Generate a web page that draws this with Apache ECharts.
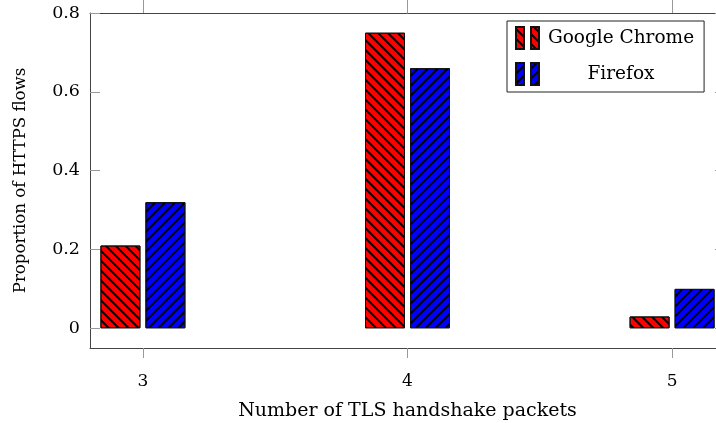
<!DOCTYPE html>
<html><head><meta charset="utf-8">
<script src="https://cdn.jsdelivr.net/npm/echarts@6/dist/echarts.min.js"></script>
<style>html,body{margin:0;padding:0;background:#fff;overflow:hidden;width:716px;height:423px}#c{width:735px;height:423px}</style>
</head><body><div id="c"></div>
<script>
const categories = [3, 4, 5];
const chromeValues = [0.21, 0.75, 0.03];
const firefoxValues = [0.32, 0.66, 0.10];
const yTicks = [0, 0.2, 0.4, 0.6, 0.8];
const seriesNames = ['Google Chrome', 'Firefox'];

const FONT = 'DejaVu Serif';
const chart = echarts.init(document.getElementById('c'), null, {renderer: 'canvas'});
function pairs(vals){ return categories.map((c,i)=>[c, vals[i]]); }
const decalBase = {symbol:'rect', symbolSize:1, color:'#000', dashArrayX:[1,0], dashArrayY:[1.2,4.6]};
chart.setOption({
  animation:false,
  backgroundColor:'#fff',
  grid:{left:90, top:13, right:10, bottom:75, containLabel:false, outerBoundsMode:'none'},
  legend:{
    orient:'vertical', left:507, top:21, padding:[5,10,6,8],
    borderColor:'#222', borderWidth:1, itemGap:12,
    itemWidth:24, itemHeight:22,
    icon:'path://M0,0h8v22h-8z M15,0h8v22h-8z',
    textStyle:{fontFamily:FONT, fontSize:19, color:'#000'},
    formatter: n => '{a|' + n + '}',
    data: seriesNames.map(n=>({name:n, textStyle:{rich:{a:{width:153, align:'center', fontFamily:FONT, fontSize:18.5, color:'#000'}}}}))
  },
  xAxis:[{
    type:'value', min:2.8, max:5.2,
    axisLine:{show:true, onZero:false, lineStyle:{color:'#444', width:1}},
    axisTick:{show:true, customValues:categories, length:10, lineStyle:{color:'#999'}},
    axisLabel:{customValues:categories, fontFamily:FONT, fontSize:17, color:'#000', margin:25},
    splitLine:{show:false},
    name:'Number of TLS handshake packets', nameLocation:'middle', nameGap:54,
    nameTextStyle:{fontFamily:FONT, fontSize:19, color:'#000'}
  },{
    type:'value', min:2.8, max:5.2, position:'top',
    axisLine:{show:true, onZero:false, lineStyle:{color:'#444', width:1}},
    axisTick:{show:true, customValues:categories, length:13, lineStyle:{color:'#999'}},
    axisLabel:{show:false}, splitLine:{show:false}
  }],
  yAxis:[{
    type:'value', min:-0.05, max:0.8,
    axisLine:{show:true, onZero:false, lineStyle:{color:'#444', width:1}},
    axisTick:{show:true, inside:true, customValues:yTicks, length:10, lineStyle:{color:'#999'}},
    axisLabel:{customValues:yTicks, fontFamily:FONT, fontSize:17.5, color:'#000', margin:10, formatter:v=>String(v)},
    splitLine:{show:false},
    name:'Proportion of HTTPS flows', nameLocation:'middle', nameGap:61, nameRotate:90,
    nameTextStyle:{fontFamily:FONT, fontSize:16.6, color:'#000'}
  },{
    type:'value', min:-0.05, max:0.8, position:'right',
    axisLine:{show:true, onZero:false, lineStyle:{color:'#444', width:1}},
    axisTick:{show:true, inside:true, customValues:yTicks, length:10, lineStyle:{color:'#999'}},
    axisLabel:{show:false}, splitLine:{show:false}
  }],
  series:[{
    name:seriesNames[0], type:'bar', data:pairs(chromeValues), barWidth:40, barGap:'12.5%',
    itemStyle:{color:'#ff0000', borderColor:'#111', borderWidth:1,
      decal:Object.assign({}, decalBase, {rotation:Math.PI/4})}
  },{
    name:seriesNames[1], type:'bar', data:pairs(firefoxValues), barWidth:40, barGap:'12.5%',
    itemStyle:{color:'#0000ff', borderColor:'#111', borderWidth:1,
      decal:Object.assign({}, decalBase, {rotation:-Math.PI/4})}
  }]
});
</script></body></html>
